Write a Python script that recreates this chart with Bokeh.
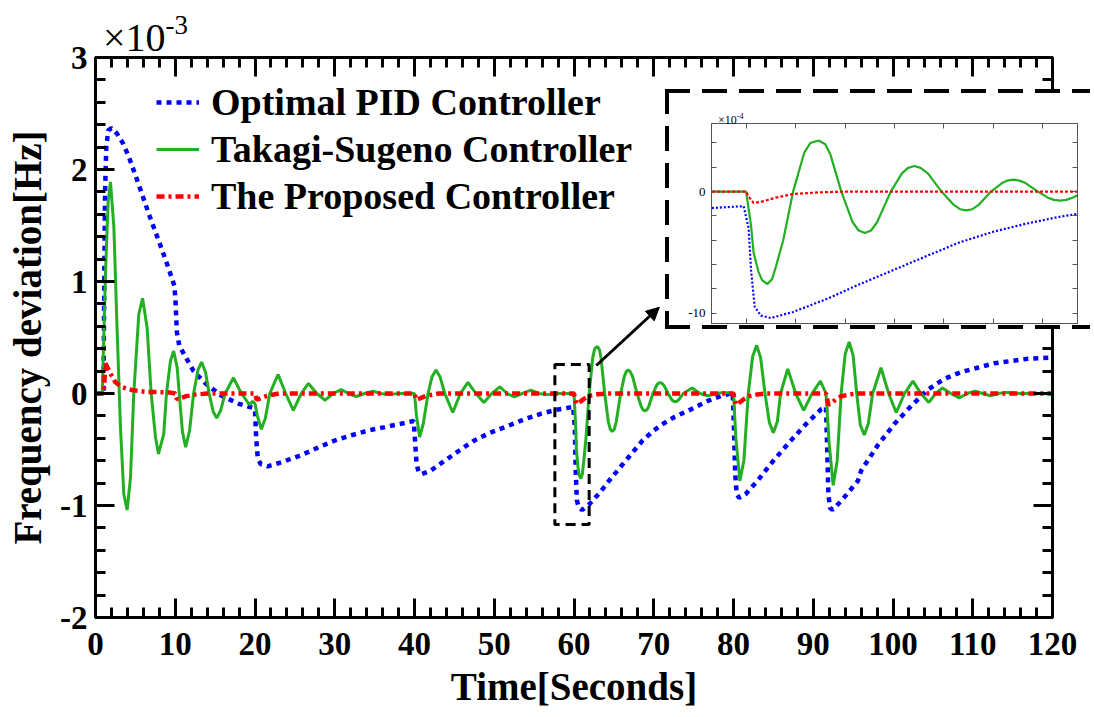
import numpy as np
from bokeh.plotting import figure
from bokeh.models import (SingleIntervalTicker, FixedTicker, LinearAxis, Div,
                          BoxAnnotation, Arrow, NormalHead, Legend, LegendItem, Range1d,
                          CustomJSTickFormatter)
from bokeh.embed import file_html
from bokeh.resources import INLINE

# ---------------- data (frequency deviation in units of 1e-3 Hz) ----------------
pid_t = [0, 0.9, 1.0, 1.05, 1.12, 1.2, 1.35, 1.6, 2.0, 2.7, 3.4, 4.2, 5.4, 6.7, 8.0, 9.0, 9.9,
         10.05, 10.2, 10.5, 11.1, 12.3, 13.8, 15.8, 17.9, 19.8, 20.0, 20.15, 20.35, 20.7, 21.6,
         23.5, 25.8, 28.0, 30.0, 32.0, 34.2, 36.3, 38.3, 39.9, 40.05, 40.25, 40.5, 40.9, 42.0,
         43.4, 44.6, 46.0, 47.5, 49.5, 51.7, 53.8, 55.9, 57.8, 59.9, 60.1, 60.2, 60.35, 60.6,
         61.0, 61.9, 63.3, 64.5, 65.9, 67.3, 68.6, 70.0, 71.3, 72.6, 74.7, 76.8, 78.5, 79.9,
         80.05, 80.2, 80.4, 80.7, 81.5, 83.0, 85.0, 87.2, 89.0, 91.0, 91.6, 91.75, 91.9, 92.1,
         92.4, 93.5, 95.6, 96.0, 98.1, 100.2, 102.3, 104.3, 106.4, 108.5, 110.6, 112.7, 114.8,
         116.9, 119.8, 120]
pid_v = [0, 0, 0.02, 0.5, 1.2, 1.8, 2.2, 2.35, 2.37, 2.32, 2.24, 2.11, 1.87, 1.6, 1.35, 1.15, 0.96,
         0.8, 0.55, 0.43, 0.35, 0.2, 0.09, -0.02, -0.09, -0.13, -0.15, -0.4, -0.58, -0.63, -0.65,
         -0.61, -0.55, -0.48, -0.42, -0.375, -0.33, -0.3, -0.27, -0.245, -0.4, -0.62, -0.7, -0.72, -0.69,
         -0.62, -0.56, -0.49, -0.42, -0.35, -0.29, -0.23, -0.18, -0.145, -0.12, -0.3, -0.65, -0.95, -1.02,
         -1.04, -0.99, -0.88, -0.77, -0.65, -0.53, -0.42, -0.33, -0.265, -0.21, -0.14, -0.065, -0.02, 0.005,
         -0.3, -0.7, -0.9, -0.93, -0.9, -0.78, -0.6, -0.42, -0.28, -0.14, -0.12, -0.5, -0.9, -1.02,
         -1.04, -0.96, -0.78, -0.69, -0.46, -0.27, -0.11, 0.03, 0.13, 0.19, 0.23, 0.27, 0.29,
         0.31, 0.32, 0.32]

ts_t = [0, 0.85, 1.25, 1.59, 1.88, 2.3, 2.7, 3.13, 3.55, 3.97, 4.39, 4.8, 5.43, 5.9, 6.47, 6.98,
        7.52, 7.9, 8.56, 8.9, 9.4, 9.8, 10.24, 10.5, 10.9, 11.3, 11.8, 12.3, 12.85, 13.3, 13.8,
        14.25, 14.75, 15.2, 15.7, 16.25, 17.3, 18.3, 19.3, 19.7, 20.0, 20.3, 20.8, 21.3, 21.85,
        22.9, 23.85, 24.8, 25.8, 26.7, 27.75, 28.8, 29.8, 30.8, 31.75, 32.7, 33.75, 34.8, 35.8,
        36.7, 38.0, 40.0, 40.25, 40.65, 41.1, 41.7, 42.2, 42.7, 43.2, 43.8, 44.8, 45.75, 46.7, 47.7,
        48.7, 49.7, 50.7, 51.6, 52.5, 53.5, 54.6, 55.6, 56.6, 58.0, 60.0, 60.1, 60.2, 60.3, 60.5,
        60.65, 60.86, 61.05, 61.2, 61.5, 61.9, 62.35, 62.6, 62.93, 63.2, 63.4, 63.85, 64.3, 64.55,
        64.8, 65.05, 65.3, 65.85, 66.3, 66.55, 66.8, 67.05, 67.35, 67.9, 68.4, 68.65, 68.9, 69.15,
        69.4, 69.9, 70.35, 70.55, 70.8, 71.05, 71.3, 71.8, 72.2, 72.45, 72.7, 72.95, 73.2, 73.7,
        74.8, 75.8, 76.8, 77.8, 78.8, 80.0, 80.3, 80.8, 81.3, 81.85, 82.4, 82.9, 83.4, 83.95,
        84.5, 85.0, 85.5, 85.9, 86.8, 87.8, 88.8, 89.85, 90.9, 91.6, 92.0, 92.5, 93.0, 93.5,
        94.0, 94.5, 95.0, 95.45, 95.9, 96.4, 96.9, 97.45, 98.5, 99.45, 100.4, 101.45, 102.5,
        103.5, 104.5, 105.35, 106.2, 107.25, 108.3, 109.3, 110.3, 111.25, 112.2, 113.2, 114.2,
        116.0, 120.0]
ts_v = [0, 0, 1.07, 1.72, 1.89, 1.49, 0.59, -0.3, -0.9, -1.04, -0.75, 0.0, 0.71, 0.85, 0.59, 0.0,
        -0.39, -0.54, -0.36, 0.0, 0.29, 0.38, 0.23, 0.0, -0.34, -0.48, -0.33, 0.0, 0.21, 0.28, 0.19,
        0.0, -0.16, -0.22, -0.15, 0.0, 0.14, 0.0, -0.1, -0.07, -0.09, -0.2, -0.32, -0.22, 0.0,
        0.17, 0.0, -0.15, 0.0, 0.09, 0.0, -0.06, 0.0, 0.035, 0.0, -0.027, 0.0, 0.02, 0.0,
        -0.01, 0.0, 0.0, -0.2, -0.39, -0.27, 0.0, 0.15, 0.21, 0.15, 0.0, -0.17, 0.0, 0.1, 0.0,
        -0.08, 0.0, 0.06, 0.0, -0.03, 0.0, 0.03, 0.0, -0.01, 0.0, 0.0, -0.14, -0.28, -0.5, -0.66,
        -0.73, -0.76, -0.72, -0.62, -0.40, 0.0, 0.32, 0.40, 0.42, 0.39, 0.31, 0.0, -0.25, -0.32,
        -0.34, -0.32, -0.25, 0.0, 0.15, 0.195, 0.21, 0.195, 0.15, 0.0, -0.11, -0.145, -0.155, -0.145,
        -0.11, 0.0, 0.07, 0.09, 0.098, 0.09, 0.07, 0.0, -0.05, -0.068, -0.074, -0.068, -0.05, 0.0,
        0.05, 0.0, -0.02, 0.0, 0.01, 0.0, -0.4, -0.78, -0.6, 0.0, 0.33, 0.43, 0.32, 0.0,
        -0.26, -0.35, -0.25, 0.0, 0.22, 0.0, -0.15, 0.0, 0.11, 0.0, -0.45, -0.82, -0.6, 0.0,
        0.35, 0.46, 0.34, 0.0, -0.28, -0.37, -0.27, 0.0, 0.23, 0.0, -0.17, 0.0, 0.11,
        0.0, -0.08, 0.0, 0.05, 0.0, -0.04, 0.0, 0.02, 0.0, -0.02, 0.0, 0.01,
        0.0, 0.0]

prop_t = [0, 1.0, 1.07, 1.25, 1.85, 2.5, 3.3, 4.6, 6.3, 9.2, 10.0, 10.2, 10.6, 11.3, 12.5, 14.0,
          20.0, 20.2, 20.6, 21.5, 23.0, 40.0, 40.2, 40.6, 41.5, 43.0, 60.0, 60.1, 60.3, 60.6,
          61.2, 61.9, 63.0, 64.0, 80.0, 80.1, 80.3, 80.6, 81.2, 81.9, 83.0, 84.0, 91.6, 91.7,
          91.9, 92.2, 92.8, 93.5, 94.6, 95.6, 120.0]
prop_v = [0, 0, 0.05, 0.27, 0.18, 0.1, 0.057, 0.03, 0.015, 0.01, 0.0, -0.05, -0.045, -0.025, -0.01, 0.0,
          0.0, -0.055, -0.045, -0.02, 0.0, 0.0, -0.055, -0.045, -0.02, 0.0, 0.0, -0.04, -0.093, -0.085,
          -0.05, -0.02, -0.006, 0.0, 0.0, -0.04, -0.1, -0.09, -0.055, -0.025, -0.008, 0.0, 0.0, -0.04,
          -0.1, -0.09, -0.055, -0.025, -0.008, 0.0, 0.0]

series_names = ["Optimal PID Controller", "Takagi-Sugeno Controller", "The Proposed Controller"]

# zoomed region (main axes units) and arrow
ZOOM_BOX = dict(left=57.6, right=61.9, top=0.26, bottom=-1.17)
ARROW = dict(x_start=62.8, y_start=0.25, x_end=70.7, y_end=0.77)
INSET_X = (58.6, 73.4)
INSET_Y = (-10.85, 5.6)

SERIF = "Liberation Serif"
BLUE, GREEN, RED = "#0000ff", "#22b022", "#ff0000"

# ---------------- main figure ----------------
W, H = 1094, 717
FL, FR, FT, FB = 95, 1052, 57, 617

p = figure(width=W, height=H, x_range=Range1d(0, 120), y_range=Range1d(-2, 3),
           output_backend="svg", toolbar_location=None,
           min_border_left=FL, min_border_right=W - FR, min_border_top=FT, min_border_bottom=H - FB,
           styles={"position": "absolute", "left": "0px", "top": "0px"})
p.xgrid.visible = False
p.ygrid.visible = False
p.outline_line_color = "black"
p.outline_line_width = 3
p.background_fill_color = "white"
p.border_fill_color = "white"

blank = CustomJSTickFormatter(code="return '';")
hyphen = CustomJSTickFormatter(code="return tick.toFixed(0);")

def style_axis(ax, show_labels):
    ax.axis_line_width = 3
    ax.major_tick_line_width = 3
    ax.minor_tick_line_width = 3
    ax.major_tick_in = 19
    ax.major_tick_out = 0
    ax.minor_tick_in = 10
    ax.minor_tick_out = 0
    ax.major_label_text_font = SERIF
    ax.major_label_text_font_style = "bold"
    ax.major_label_text_color = "black"
    ax.major_label_text_font_size = "33px"
    if not show_labels:
        ax.formatter = blank
        ax.major_label_standoff = 0

p.xaxis.ticker = SingleIntervalTicker(interval=10, num_minor_ticks=5)
p.yaxis.ticker = SingleIntervalTicker(interval=1, num_minor_ticks=5)
style_axis(p.xaxis[0], True)
style_axis(p.yaxis[0], True)
p.yaxis.formatter = hyphen
p.xaxis.major_label_standoff = 15
p.yaxis.major_label_standoff = 8
p.xaxis.axis_label = "Time[Seconds]"
p.yaxis.axis_label = "Frequency deviation[Hz]"
for ax in (p.xaxis[0], p.yaxis[0]):
    ax.axis_label_text_font = SERIF
    ax.axis_label_text_font_style = "bold"
    ax.axis_label_text_font_size = "39px"
    ax.axis_label_text_color = "black"
p.xaxis.axis_label_standoff = 7
p.yaxis.axis_label_standoff = 8

top_ax = LinearAxis(ticker=SingleIntervalTicker(interval=10, num_minor_ticks=5))
right_ax = LinearAxis(ticker=SingleIntervalTicker(interval=1, num_minor_ticks=5))
style_axis(top_ax, False)
style_axis(right_ax, False)
p.add_layout(top_ax, "above")
p.add_layout(right_ax, "right")

r_pid = p.line(pid_t, pid_v, line_color=BLUE, line_width=4.5, line_dash="5 5")
r_ts = p.line(ts_t, ts_v, line_color=GREEN, line_width=3)
r_prop = p.line(prop_t, prop_v, line_color=RED, line_width=4.5, line_dash="8 4 3 4")

legend = Legend(items=[LegendItem(label=series_names[0], renderers=[r_pid]),
                       LegendItem(label=series_names[1], renderers=[r_ts]),
                       LegendItem(label=series_names[2], renderers=[r_prop])],
                location=(61, 399), background_fill_alpha=0, border_line_alpha=0,
                padding=0, margin=0, spacing=3, glyph_width=43, glyph_height=30,
                label_standoff=12, label_text_font=SERIF, label_text_font_style="bold",
                label_text_font_size="38px", label_text_color="black")
p.add_layout(legend, "center")

# zoom rectangle and arrow
p.add_layout(BoxAnnotation(fill_alpha=0, line_color="black", line_alpha=1, line_width=3,
                           line_dash="10 6", **ZOOM_BOX))
p.add_layout(Arrow(end=NormalHead(size=13, fill_color="black", line_color="black"),
                   line_color="black", line_width=3, **ARROW))

# exponent of the main y axis
exp_main = Div(text="×10<span style='font-size:27px; position:relative; top:-17px;'>-3</span>",
               styles={"position": "absolute", "left": "98px", "top": "13px",
                       "font-family": SERIF, "font-size": "40px", "line-height": "1",
                       "color": "black", "white-space": "nowrap", "z-index": "5"})

# ---------------- inset figure ----------------
IL, IT = 665, 89
dash_bg = ("linear-gradient(to right, black 68%, transparent 68%) top left / 37px 4px repeat-x, "
           "linear-gradient(to right, black 68%, transparent 68%) bottom left / 37px 4px repeat-x, "
           "linear-gradient(to bottom, black 68%, transparent 68%) top left / 4px 37px repeat-y, "
           "white")
inset = figure(width=W - IL - 4, height=240, x_range=Range1d(*INSET_X), y_range=Range1d(*INSET_Y),
               output_backend="svg", toolbar_location=None,
               min_border_left=42, min_border_right=17, min_border_top=30, min_border_bottom=10,
               styles={"position": "absolute", "left": f"{IL}px", "top": f"{IT}px",
                       "padding": "4px 0px 4px 4px", "background": dash_bg,
                       "z-index": "10"})
inset.xgrid.visible = False
inset.ygrid.visible = False
inset.outline_line_color = "#555555"
inset.outline_line_width = 1

def style_inset_axis(ax, show_labels):
    ax.axis_line_color = "#555555"
    ax.axis_line_width = 1
    ax.major_tick_line_color = "#555555"
    ax.minor_tick_line_color = "#555555"
    ax.major_tick_in = 5
    ax.major_tick_out = 0
    ax.minor_tick_in = 5
    ax.minor_tick_out = 0
    ax.major_label_text_font = SERIF
    ax.major_label_text_color = "black"
    ax.major_label_text_font_size = "13px"
    if show_labels:
        ax.major_label_standoff = 6
    else:
        ax.formatter = blank
        ax.major_label_standoff = 0

inset.yaxis.ticker = FixedTicker(ticks=[0, -10], minor_ticks=[4, 2, -2, -4, -6, -8])
inset.xaxis.ticker = FixedTicker(ticks=[60, 62, 64, 66, 68, 70, 72], minor_ticks=[])
style_inset_axis(inset.yaxis[0], True)
style_inset_axis(inset.xaxis[0], False)
inset.yaxis.formatter = hyphen
it_ax = LinearAxis(ticker=FixedTicker(ticks=[60, 62, 64, 66, 68, 70, 72], minor_ticks=[]))
ir_ax = LinearAxis(ticker=FixedTicker(ticks=[0, -10], minor_ticks=[4, 2, -2, -4, -6, -8]))
style_inset_axis(it_ax, False)
style_inset_axis(ir_ax, False)
inset.add_layout(it_ax, "above")
inset.add_layout(ir_ax, "right")

inset.line(pid_t, np.array(pid_v) * 10, line_color=BLUE, line_width=2.2, line_dash="2 2")
inset.line(ts_t, np.array(ts_v) * 10, line_color=GREEN, line_width=2.2)
inset.line(prop_t, np.array(prop_v) * 10, line_color=RED, line_width=2.2, line_dash="3 2")

exp_inset = Div(text="×10<span style='font-size:8px; position:relative; top:-5px;'>-4</span>",
                styles={"position": "absolute", "left": "713px", "top": "109px",
                        "font-family": SERIF, "font-size": "12px", "line-height": "1",
                        "color": "black", "white-space": "nowrap", "z-index": "20"})

html = file_html([p, inset, exp_main, exp_inset], INLINE)
open("out.html", "w").write(html)
